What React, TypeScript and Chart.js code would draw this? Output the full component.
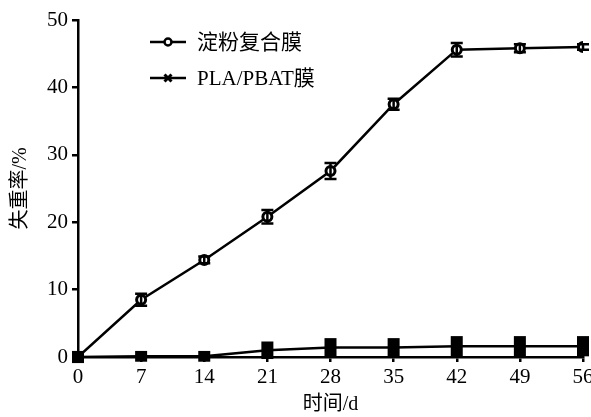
import React, { useEffect, useRef } from "react";
import { Chart, registerables } from "chart.js";

Chart.register(...registerables);

const days = [0, 7, 14, 21, 28, 35, 42, 49, 56];
const starchLabel = "淀粉复合膜";
const starchValues = [0, 8.5, 14.4, 20.8, 27.6, 37.5, 45.6, 45.8, 46.0];
const starchErrors = [0.3, 0.9, 0.5, 1.0, 1.2, 0.8, 1.0, 0.6, 0.4];
const plaLabel = "PLA/PBAT膜";
const plaValues = [0, 0.1, 0.1, 1.0, 1.4, 1.4, 1.6, 1.6, 1.6];
const plaErrors = [0.9, 0.8, 0.8, 1.3, 1.4, 1.4, 1.5, 1.5, 1.5];
const xTitle = "时间/d";
const yTitle = "失重率/%";

const FONT = '"Liberation Serif", "Noto Sans CJK SC", serif';

const errorBarPlugin = {
  id: "errorBars",
  afterDatasetsDraw(chart: any) {
    const ctx = chart.ctx;
    const y = chart.scales.y;
    chart.data.datasets.forEach((ds: any, i: number) => {
      const meta = chart.getDatasetMeta(i);
      const errs: number[] = ds.errors || [];
      meta.data.forEach((pt: any, j: number) => {
        const v = ds.data[j].y;
        const e = errs[j] || 0;
        const top = y.getPixelForValue(v + e);
        const bot = y.getPixelForValue(v - e);
        ctx.save();
        ctx.strokeStyle = "#000";
        ctx.fillStyle = "#000";
        if (ds.errorStyle === "block") {
          ctx.fillRect(pt.x - 6, top, 12, bot - top);
        } else {
          ctx.lineWidth = 2.5;
          ctx.beginPath();
          ctx.moveTo(pt.x, top);
          ctx.lineTo(pt.x, bot);
          ctx.moveTo(pt.x - 6, top);
          ctx.lineTo(pt.x + 6, top);
          ctx.moveTo(pt.x - 6, bot);
          ctx.lineTo(pt.x + 6, bot);
          ctx.stroke();
        }
        ctx.restore();
      });
    });
  },
};

function drawMarker(ctx: CanvasRenderingContext2D, style: string, x: number, y: number) {
  ctx.save();
  ctx.strokeStyle = "#000";
  ctx.lineWidth = 2.5;
  if (style === "circle") {
    ctx.fillStyle = "#fff";
    ctx.beginPath();
    ctx.arc(x, y, 3.5, 0, Math.PI * 2);
    ctx.fill();
    ctx.stroke();
  } else {
    ctx.lineWidth = 3;
    ctx.beginPath();
    ctx.moveTo(x - 3.5, y - 3.5);
    ctx.lineTo(x + 3.5, y + 3.5);
    ctx.moveTo(x + 3.5, y - 3.5);
    ctx.lineTo(x - 3.5, y + 3.5);
    ctx.stroke();
  }
  ctx.restore();
}

const legendPlugin = {
  id: "customLegend",
  afterDraw(chart: any) {
    const ctx = chart.ctx;
    const rows = [42, 78];
    chart.data.datasets.forEach((ds: any, i: number) => {
      const yy = rows[i];
      ctx.save();
      ctx.strokeStyle = "#000";
      ctx.lineWidth = 2.5;
      ctx.beginPath();
      ctx.moveTo(150, yy);
      ctx.lineTo(186, yy);
      ctx.stroke();
      drawMarker(ctx, ds.markerStyle, 168, yy);
      ctx.fillStyle = "#000";
      ctx.font = "21px " + FONT;
      ctx.textBaseline = "middle";
      ctx.textAlign = "left";
      ctx.fillText(ds.label, 197, yy + 1);
      ctx.restore();
    });
  },
};

export default function App() {
  const ref = useRef<HTMLCanvasElement | null>(null);
  useEffect(() => {
    if (!ref.current) return;
    const chart = new Chart(ref.current, {
      type: "line",
      data: {
        datasets: [
          {
            label: starchLabel,
            data: days.map((d, i) => ({ x: d, y: starchValues[i] })),
            errors: starchErrors,
            errorStyle: "bar",
            markerStyle: "circle",
            borderColor: "#000",
            borderWidth: 2.5,
            pointStyle: "circle",
            pointRadius: 4.5,
            pointBorderWidth: 3,
            pointBackgroundColor: "#fff",
            pointBorderColor: "#000",
          } as any,
          {
            label: plaLabel,
            data: days.map((d, i) => ({ x: d, y: plaValues[i] })),
            errors: plaErrors,
            errorStyle: "block",
            markerStyle: "cross",
            borderColor: "#000",
            borderWidth: 2.5,
            pointStyle: "crossRot",
            pointRadius: 5,
            pointBorderWidth: 3,
            pointBorderColor: "#000",
          } as any,
        ],
      },
      options: {
        animation: false,
        responsive: false,
        layout: { padding: { left: 0, top: 20, right: 17, bottom: 0 } },
        plugins: { legend: { display: false }, tooltip: { enabled: false } },
        scales: {
          x: {
            type: "linear",
            min: 0,
            max: 56,
            afterFit: (s: any) => {
              s.height = 60;
            },
            afterBuildTicks: (s: any) => {
              s.ticks = days.map((d) => ({ value: d }));
            },
            ticks: { color: "#000", font: { family: FONT, size: 21 }, padding: 3, maxRotation: 0 },
            grid: { drawOnChartArea: false, drawTicks: true, tickLength: 5, color: "#000", lineWidth: 2.5 },
            border: { display: true, color: "#000", width: 2.5 },
            title: { display: true, text: xTitle, color: "#000", font: { family: FONT, size: 20 }, padding: { top: 0, bottom: 0 } },
          },
          y: {
            min: 0,
            max: 50,
            afterFit: (s: any) => {
              s.width = 78;
            },
            ticks: { stepSize: 10, color: "#000", font: { family: FONT, size: 21 }, padding: 4 },
            grid: { drawOnChartArea: false, drawTicks: true, tickLength: 6, color: "#000", lineWidth: 2.5 },
            border: { display: true, color: "#000", width: 2.5 },
            title: { display: true, text: yTitle, color: "#000", font: { family: FONT, size: 20 }, padding: { top: 9, bottom: 0 } },
          },
        },
      } as any,
      plugins: [errorBarPlugin, legendPlugin],
    });
    return () => chart.destroy();
  }, []);
  return (
    <div style={{ position: "fixed", left: 0, top: 0, width: 591, height: 417, overflow: "hidden", background: "#fff" }}>
      <canvas ref={ref} width={600} height={417} style={{ width: 600, height: 417, display: "block" }} />
    </div>
  );
}
